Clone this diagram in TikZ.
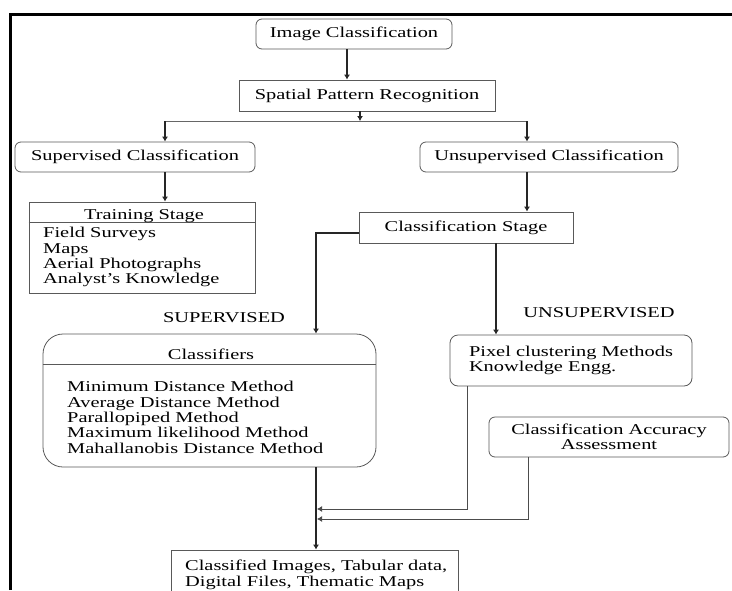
\documentclass[tikz,border=0pt]{standalone}
\usepackage{fontspec}
\setmainfont{Liberation Serif}[FakeStretch=1.36]
\usetikzlibrary{arrows.meta}

\tikzset{
  box/.style={draw=black!65, line width=0.8pt, inner sep=0pt},
  rbox/.style={box, rounded corners=6pt},
  txt/.style={inner sep=0pt, align=left},
  line/.style={draw=black!60, line width=0.8pt},
  arr/.style={draw=black!85, line width=1.3pt, -{Latex[length=5pt,width=6pt]}},
  link/.style={draw=black!70, line width=0.9pt, -{Latex[length=5pt,width=6pt]}},
}

\begin{document}
\begin{tikzpicture}[x=1pt, y=-1pt, font=\fontsize{15}{15.4}\selectfont]
    \useasboundingbox (0, 0) rectangle (732, 590);
    % frame
    \draw [line width=3pt] (10, 590) -- (10, 14) -- (732, 14);
    % top
    \node [rbox, minimum width=196pt, minimum height=30pt] (img) at (354, 34) {Image Classification};
    \node [box, minimum width=256pt, minimum height=31pt] (spr) at (367, 95.5) {Spatial Pattern Recognition};
    \node [rbox, minimum width=240pt, minimum height=30pt] (sup) at (135, 157) {Supervised Classification};
    \node [rbox, minimum width=258pt, minimum height=30pt] (uns) at (549, 157) {Unsupervised Classification};
    % training
    \node [box, minimum width=226pt, minimum height=91pt] (train) at (142, 247.5) {};
    \draw [box] ([yshift=-21pt]train.north west) -- ([yshift=-21pt]train.north east);
    \node [txt] (trainhead) at (144, 216) {Training Stage};
    \node [txt, anchor=north west] (trainlist) at (43, 227) {Field Surveys\\Maps\\Aerial Photographs\\Analyst's Knowledge};
    % classification stage
    \node [box, minimum width=214pt, minimum height=31pt] (cstage) at (466, 227.5) {Classification Stage};
    \node [txt] (suplab) at (224, 318) {SUPERVISED};
    \node [txt] (unslab) at (599, 313) {UNSUPERVISED};
    % classifiers
    \node [box, rounded corners=20pt, minimum width=333pt, minimum height=133pt] (cls) at (209.5, 400.5) {};
    \draw [box] ([yshift=-31pt]cls.north west) -- ([yshift=-31pt]cls.north east);
    \node [txt] (clshead) at (211, 354) {Classifiers};
    \node [txt, anchor=north west] (clslist) at (67, 381) {Minimum Distance Method\\Average Distance Method\\Parallopiped Method\\Maximum likelihood Method\\Mahallanobis Distance Method};
    % unsupervised side
    \node [rbox, rounded corners=8pt, minimum width=242pt, minimum height=51pt, align=left] (pix) at (571, 360.5) {Pixel clustering Methods\\Knowledge Engg.};
    \node [rbox, minimum width=240pt, minimum height=40pt, align=center] (acc) at (609, 437) {Classification Accuracy\\Assessment};
    % output
    \node [box, minimum width=287pt, minimum height=52pt] (out) at (314.5, 576) {};
    \node [txt, anchor=north west] (outtext) at (185, 560) {Classified Images, Tabular data,\\Digital Files, Thematic Maps};
    % connectors
    \coordinate (split) at (360, 121);
    \coordinate (supturn) at (165, 121);
    \coordinate (unsturn) at (527, 121);
    \coordinate (join1) at (317, 509);
    \coordinate (join2) at (317, 519);
    \draw [arr] ([xshift=-7pt]img.south) -- ([xshift=-7pt]img.south |- spr.north);
    \draw [arr] ([xshift=-7pt]spr.south) -- (split);
    \draw [line] (supturn) -- (unsturn);
    \draw [arr] (supturn) -- (supturn |- sup.north);
    \draw [arr] (unsturn) -- (unsturn |- uns.north);
    \draw [arr] ([xshift=30pt]sup.south) -- ([xshift=30pt]sup.south |- train.north);
    \draw [arr] ([xshift=-22pt]uns.south) -- ([xshift=-22pt]uns.south |- cstage.north);
    \draw [arr] ([yshift=-5.5pt]cstage.west) -| ([xshift=106.5pt]cls.north);
    \draw [arr] ([xshift=30pt]cstage.south) -- ([xshift=30pt]cstage.south |- pix.north);
    \draw [arr] ([xshift=106.5pt]cls.south) -- ([xshift=106.5pt]cls.south |- out.north);
    \draw [link] ([xshift=-104pt]pix.south) |- (join1);
    \draw [link] ([xshift=-81pt]acc.south) |- (join2);
\end{tikzpicture}
\end{document}
